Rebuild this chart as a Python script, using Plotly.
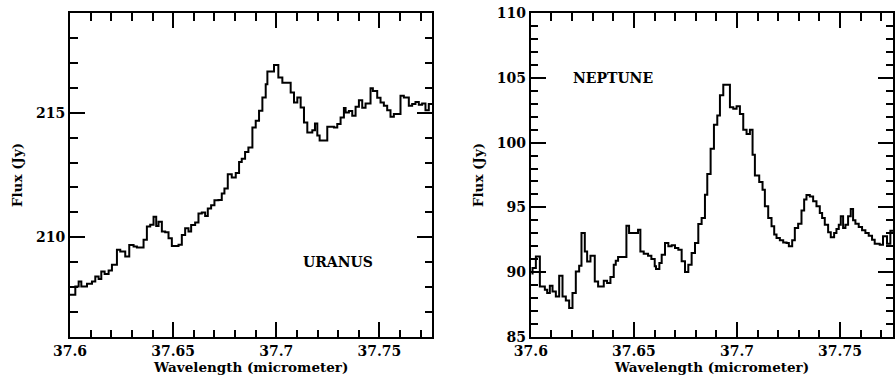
import plotly.graph_objects as go

# ---------------- data ----------------
uranus_wl = [
    37.60000, 37.60258, 37.60419, 37.60549, 37.60823, 37.61065, 37.61226, 37.61388, 37.61517, 37.61678,
    37.61872, 37.62033, 37.62275, 37.62436, 37.62678, 37.62872, 37.63082, 37.63243, 37.63566, 37.63727,
    37.63888, 37.64050, 37.64179, 37.64292, 37.64453, 37.64614, 37.64776, 37.64937, 37.65260, 37.65421,
    37.65582, 37.65744, 37.65873, 37.66066, 37.66228, 37.66389, 37.66551, 37.66680, 37.66841, 37.67002,
    37.67196, 37.67357, 37.67486, 37.67648, 37.67841, 37.68035, 37.68196, 37.68325, 37.68487, 37.68648,
    37.68842, 37.69003, 37.69164, 37.69326, 37.69487, 37.69568, 37.69890, 37.70100, 37.70294, 37.70697,
    37.70858, 37.71020, 37.71181, 37.71342, 37.71504, 37.71746, 37.71875, 37.71988, 37.72101, 37.72472,
    37.72794, 37.72956, 37.73117, 37.73278, 37.73359, 37.73520, 37.73682, 37.73843, 37.74005, 37.74166,
    37.74327, 37.74569, 37.74682, 37.74892, 37.75053, 37.75215, 37.75376, 37.75537, 37.75699, 37.76021,
    37.76183, 37.76425, 37.76586, 37.76747, 37.76909, 37.77070, 37.77231, 37.77393, 37.77554,
]
uranus_flux = [
    207.70, 208.03, 208.23, 208.03, 208.14, 208.23, 208.43, 208.33, 208.63, 208.53,
    208.67, 208.90, 209.50, 209.43, 209.23, 209.69, 209.63, 209.59, 209.90, 210.43,
    210.50, 210.82, 210.45, 210.62, 210.23, 210.20, 209.96, 209.65, 209.70, 210.09,
    210.36, 210.23, 210.49, 210.59, 210.96, 211.00, 210.85, 211.16, 211.29, 211.49,
    211.50, 211.76, 211.96, 212.53, 212.40, 212.58, 213.02, 213.15, 213.42, 213.60,
    214.41, 214.68, 215.08, 215.61, 216.14, 216.65, 216.91, 216.41, 216.20, 215.81,
    215.41, 215.61, 215.21, 214.61, 214.21, 214.30, 214.57, 214.08, 213.88, 214.44,
    214.41, 214.55, 214.81, 215.19, 215.01, 215.07, 214.88, 215.24, 215.50, 215.20,
    215.37, 215.98, 215.87, 215.60, 215.41, 215.28, 215.10, 214.84, 214.95, 215.68,
    215.61, 215.28, 215.35, 215.43, 215.32, 215.37, 215.10, 215.35, 215.35,
]

neptune_wl = [
    37.60032, 37.60081, 37.60242, 37.60436, 37.60678, 37.60791, 37.60920, 37.61050, 37.61211, 37.61373,
    37.61534, 37.61696, 37.61857, 37.62019, 37.62180, 37.62342, 37.62455, 37.62616, 37.62729, 37.62891,
    37.63100, 37.63262, 37.63537, 37.63698, 37.63860, 37.64021, 37.64118, 37.64231, 37.64635, 37.64764,
    37.65200, 37.65313, 37.65475, 37.65685, 37.65846, 37.66008, 37.66072, 37.66234, 37.66347, 37.66508,
    37.66670, 37.66831, 37.66993, 37.67154, 37.67316, 37.67477, 37.67639, 37.67800, 37.67962, 37.68123,
    37.68285, 37.68446, 37.68559, 37.68721, 37.68882, 37.69044, 37.69173, 37.69335, 37.69658, 37.69819,
    37.69981, 37.70142, 37.70304, 37.70465, 37.70627, 37.70756, 37.70869, 37.71079, 37.71240, 37.71353,
    37.71515, 37.71676, 37.71806, 37.71919, 37.72080, 37.72242, 37.72403, 37.72516, 37.72678, 37.72807,
    37.72968, 37.73130, 37.73259, 37.73372, 37.73533, 37.73695, 37.73857, 37.74018, 37.74131, 37.74260,
    37.74422, 37.74551, 37.74713, 37.74826, 37.74939, 37.75036, 37.75149, 37.75262, 37.75391, 37.75520,
    37.75633, 37.75746, 37.75907, 37.76069, 37.76230, 37.76392, 37.76553, 37.76682, 37.76925, 37.77086,
    37.77280, 37.77442, 37.77570,
]
neptune_flux = [
    89.90, 90.32, 91.22, 88.90, 88.65, 88.39, 88.96, 88.52, 88.13, 89.73,
    88.13, 87.82, 87.24, 88.39, 90.06, 90.50, 93.02, 91.60, 90.83, 91.27,
    89.29, 88.90, 89.34, 89.17, 89.63, 90.58, 90.89, 91.17, 93.59, 93.02,
    93.28, 91.60, 91.43, 91.27, 91.02, 90.45, 90.25, 90.71, 91.35, 92.25,
    92.00, 92.07, 91.87, 91.74, 90.84, 90.02, 90.58, 91.48, 92.25, 93.72,
    94.18, 95.98, 97.58, 99.53, 101.38, 102.10, 103.65, 104.47, 102.72, 102.62,
    102.80, 102.21, 101.00, 100.66, 101.00, 99.07, 97.47, 96.96, 96.37, 95.08,
    94.18, 93.54, 92.90, 92.64, 92.46, 92.30, 92.25, 92.00, 92.46, 93.41,
    93.74, 94.77, 95.60, 95.96, 95.85, 95.47, 95.08, 94.57, 94.18, 93.67,
    93.08, 92.69, 93.02, 93.33, 93.67, 94.31, 93.41, 93.67, 94.31, 94.88,
    94.00, 93.74, 93.49, 93.23, 93.02, 92.82, 92.51, 92.20, 92.12, 92.77,
    92.20, 93.20, 93.20,
]

x_range = [37.6, 37.7757]
uranus_y_range = [206, 219]
neptune_y_range = [85, 110]
x_title = "Wavelength (micrometer)"
y_title = "Flux (Jy)"

# ---------------- figure ----------------
FONT = "DejaVu Serif"
fig = go.Figure()
fig.add_trace(go.Scatter(x=uranus_wl, y=uranus_flux, mode="lines",
                         line=dict(shape="hv", color="black", width=2),
                         xaxis="x", yaxis="y", showlegend=False, hoverinfo="skip"))
fig.add_trace(go.Scatter(x=neptune_wl, y=neptune_flux, mode="lines",
                         line=dict(shape="hv", color="black", width=2),
                         xaxis="x2", yaxis="y2", showlegend=False, hoverinfo="skip"))

tickfont = dict(family=FONT, size=14, color="#000000", weight="bold")
titlefont = dict(family=FONT, size=13.5, color="#000000", weight="bold")
common = dict(showline=True, linecolor="black", linewidth=2, mirror="allticks",
              ticks="inside", ticklen=15, tickwidth=1.5, tickcolor="black",
              showgrid=False, zeroline=False, tickfont=tickfont)

def xax(domain, anchor):
    return dict(common, domain=domain, anchor=anchor, range=x_range,
                tick0=37.6, dtick=0.05,
                minor=dict(ticks="inside", ticklen=7.5, tickwidth=1.5, tickcolor="black",
                           dtick=0.01, showgrid=False),
                title=dict(text=x_title, font=titlefont, standoff=1))

def yax(rng, tick0, anchor):
    return dict(common, domain=[0, 1], anchor=anchor, range=rng,
                tick0=tick0, dtick=5,
                minor=dict(ticks="inside", ticklen=7.5, tickwidth=1.5, tickcolor="black",
                           dtick=1, showgrid=False),
                title=dict(text=y_title, font=titlefont, standoff=10))

fig.update_layout(
    width=895, height=377,
    margin=dict(l=70, r=0, t=13, b=40),
    paper_bgcolor="white", plot_bgcolor="white",
    xaxis=xax([0, 0.4404], "y"),
    yaxis=yax(uranus_y_range, 210, "x"),
    xaxis2=xax([0.56, 1.0], "y2"),
    yaxis2=yax(neptune_y_range, 85, "x2"),
    annotations=[
        dict(text="URANUS", x=37.7301, y=209.0, xref="x", yref="y", showarrow=False,
             xanchor="center", yanchor="middle",
             font=dict(family=FONT, size=14, color="black", weight="bold")),
        dict(text="NEPTUNE", x=37.6396, y=105.0, xref="x2", yref="y2", showarrow=False,
             xanchor="center", yanchor="middle",
             font=dict(family=FONT, size=14, color="black", weight="bold")),
    ],
)

fig.write_html("out.html")
